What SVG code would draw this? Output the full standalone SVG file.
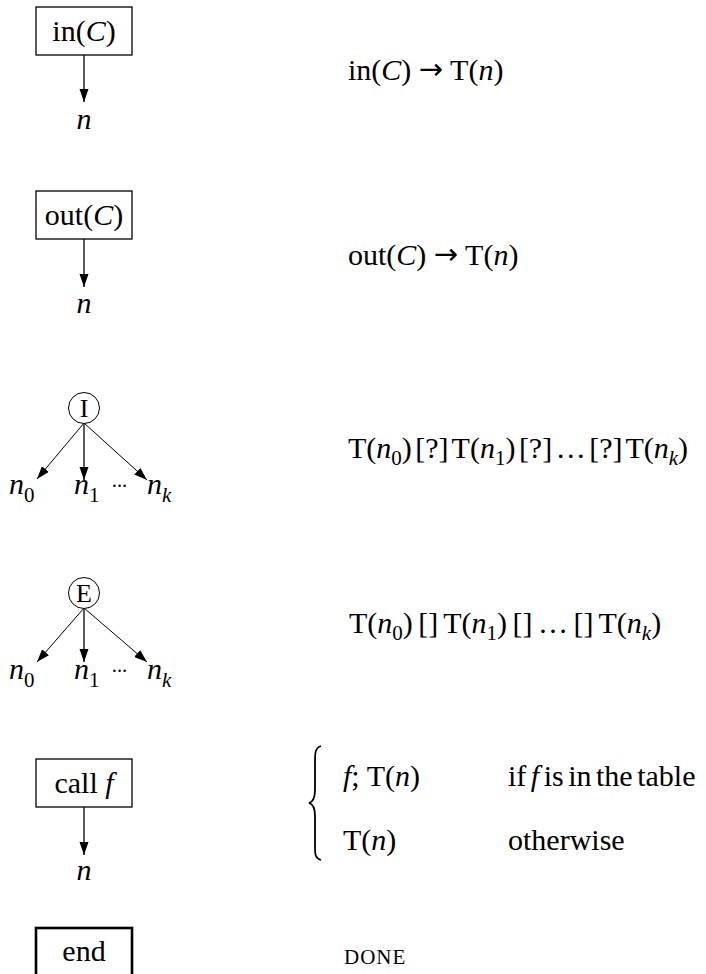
<svg xmlns="http://www.w3.org/2000/svg" width="706" height="974" viewBox="0 0 706 974">
<style>
text{font-family:"Liberation Serif","Times New Roman",serif;font-size:30px;fill:#000}
.c{text-anchor:middle}
.i{font-style:italic}
.ar{font-family:"DejaVu Sans",sans-serif;font-size:29px}
.box{fill:#fff;stroke:#000;stroke-width:1.3}
.thick{stroke-width:2.6}
.ln{stroke:#000;stroke-width:1.3;fill:none}
.thin{stroke-width:1}
.circ{fill:#fff;stroke:#000;stroke-width:1}
.cl{font-size:26px}
.sub{font-size:21px}
.dots{font-size:20px;letter-spacing:-1.5px}
</style>
<defs>
<marker id="ah" markerUnits="userSpaceOnUse" markerWidth="14" markerHeight="10" refX="13" refY="4.5" orient="auto">
<path d="M0,0 L13,4.5 L0,9 z" fill="#000"/>
</marker>
</defs>
<rect width="706" height="974" fill="#fff"/>

<g id="connectors">
<line class="ln" x1="84" y1="55" x2="84" y2="102" marker-end="url(#ah)"/>
<line class="ln" x1="84" y1="239" x2="84" y2="287" marker-end="url(#ah)"/>
<line class="ln thin" x1="84" y1="423" x2="37" y2="479" marker-end="url(#ah)"/>
<line class="ln" x1="84" y1="423" x2="84" y2="480" marker-end="url(#ah)"/>
<line class="ln thin" x1="84" y1="423" x2="147" y2="480" marker-end="url(#ah)"/>
<line class="ln thin" x1="84" y1="608" x2="37" y2="662" marker-end="url(#ah)"/>
<line class="ln" x1="84" y1="608" x2="84" y2="662" marker-end="url(#ah)"/>
<line class="ln thin" x1="84" y1="608" x2="147" y2="662" marker-end="url(#ah)"/>
<line class="ln" x1="84" y1="807" x2="84" y2="855" marker-end="url(#ah)"/>
</g>

<g id="in">
<rect class="box" x="36" y="7" width="96" height="48"/>
<text class="c" x="84" y="41">in(<tspan class="i">C</tspan>)</text>
</g>
<g id="in-n"><text class="c i" x="84" y="129">n</text></g>
<g id="in-rule"><text x="348" y="80">in(<tspan class="i">C</tspan>) <tspan class="ar" dy="-1">→</tspan><tspan dy="1"> T(</tspan><tspan class="i">n</tspan>)</text></g>

<g id="out">
<rect class="box" x="36" y="191" width="96" height="48"/>
<text class="c" x="84" y="225">out(<tspan class="i">C</tspan>)</text>
</g>
<g id="out-n"><text class="c i" x="84" y="313">n</text></g>
<g id="out-rule"><text x="348" y="265">out(<tspan class="i">C</tspan>) <tspan class="ar" dy="-1">→</tspan><tspan dy="1"> T(</tspan><tspan class="i">n</tspan>)</text></g>

<g id="I">
<circle class="circ" cx="84" cy="408" r="15.5"/>
<text class="c cl" x="84" y="417">I</text>
</g>
<g id="I-kids">
<text x="9" y="494"><tspan class="i">n</tspan><tspan class="sub" dy="8">0</tspan></text>
<text x="74" y="494"><tspan class="i">n</tspan><tspan class="sub" dy="8">1</tspan></text>
<text class="dots" x="111" y="493">···</text>
<text x="147" y="494"><tspan class="i">n</tspan><tspan class="sub i" dy="8">k</tspan></text>
</g>
<g id="I-rule"><text x="348" y="458" style="word-spacing:-4px">T(<tspan class="i">n</tspan><tspan class="sub" dy="7">0</tspan><tspan dy="-7">) [?] T(</tspan><tspan class="i">n</tspan><tspan class="sub" dy="7">1</tspan><tspan dy="-7">) [?] … [?] T(</tspan><tspan class="i">n</tspan><tspan class="sub i" dy="7">k</tspan><tspan dy="-7">)</tspan></text></g>

<g id="E">
<circle class="circ" cx="84" cy="593" r="15.5"/>
<text class="c cl" x="84" y="602">E</text>
</g>
<g id="E-kids">
<text x="9" y="679"><tspan class="i">n</tspan><tspan class="sub" dy="8">0</tspan></text>
<text x="74" y="679"><tspan class="i">n</tspan><tspan class="sub" dy="8">1</tspan></text>
<text class="dots" x="111" y="678">···</text>
<text x="147" y="679"><tspan class="i">n</tspan><tspan class="sub i" dy="8">k</tspan></text>
</g>
<g id="E-rule"><text x="349" y="633" style="word-spacing:-2px">T(<tspan class="i">n</tspan><tspan class="sub" dy="7">0</tspan><tspan dy="-7">) [] T(</tspan><tspan class="i">n</tspan><tspan class="sub" dy="7">1</tspan><tspan dy="-7">) [] … [] T(</tspan><tspan class="i">n</tspan><tspan class="sub i" dy="7">k</tspan><tspan dy="-7">)</tspan></text></g>

<g id="call">
<rect class="box" x="36" y="759" width="96" height="48"/>
<text class="c" x="84" y="793">call <tspan class="i">f</tspan></text>
</g>
<g id="call-n"><text class="c i" x="84" y="880">n</text></g>
<g id="call-rule">
<path d="M321,746 C315,748 315,753 315,762 L315,790 C315,798 313,802 309,803 C313,804 315,808 315,816 L315,845 C315,855 315,858 321,860" fill="none" stroke="#000" stroke-width="1.8"/>
<text x="343" y="786"><tspan class="i">f</tspan>; T(<tspan class="i">n</tspan>)</text>
<text x="343" y="850">T(<tspan class="i">n</tspan>)</text>
<text x="508" y="786" style="word-spacing:-3px">if <tspan class="i">f</tspan> is in the table</text>
<text x="508" y="850">otherwise</text>
</g>

<g id="end">
<rect class="box thick" x="36" y="928" width="96" height="50"/>
<text class="c" x="84" y="961">end</text>
</g>
<g id="end-rule"><text x="344" y="964" style="font-size:21px;letter-spacing:1px">DONE</text></g>
</svg>
